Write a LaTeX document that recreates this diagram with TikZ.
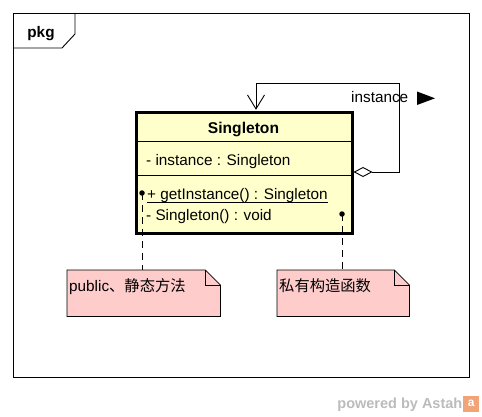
\documentclass[tikz,border=0pt]{standalone}
\usepackage{fontspec}
\setmainfont{Liberation Sans}
\newfontfamily\cjk{Noto Sans CJK SC}
\usetikzlibrary{arrows.meta}
\definecolor{classfill}{HTML}{FFFFCC}
\definecolor{notefill}{HTML}{FFCCCC}
\definecolor{wmgray}{HTML}{BBBBBB}
\definecolor{wmorange}{HTML}{F0A477}
\tikzset{
  txt/.style={inner sep=0pt, anchor=base west},
  notebox/.style={inner sep=0pt, minimum height=46pt, anchor=north west},
  notedraw/.style={draw, fill=notefill, line width=0.8pt},
  dotnode/.style={circle, fill=black, inner sep=0pt, minimum size=5.5pt},
  conn/.style={line width=0.8pt, dash pattern=on 7pt off 5pt},
}
\begin{document}
\begin{tikzpicture}[x=1pt,y=-1pt,font=\fontsize{15.3}{18}\selectfont]
\useasboundingbox (0,0) rectangle (482,417);
% frame
\node[draw, line width=0.9pt, minimum width=456pt, minimum height=364pt, anchor=north west, inner sep=0pt] (frame) at (13,13) {};
\draw[line width=0.9pt] (13,48) -- (62,48) -- (75,34) -- (75,13);
\node[anchor=base, inner sep=0pt, font=\bfseries\fontsize{15.3}{18}\selectfont] (pkg) at (41,38) {pkg};
% class
\node[draw, line width=3pt, fill=classfill, minimum width=215.5pt, minimum height=120.7pt, anchor=north west, inner sep=0pt] (cls) at (135,111.3) {};
\draw[line width=0.9pt] (135,141.7) -- (350.5,141.7);
\draw[line width=0.9pt] (135,175.3) -- (350.5,175.3);
\node[anchor=base, inner sep=0pt, font=\bfseries\fontsize{15.6}{18}\selectfont] (name) at (243.5,134) {Singleton};
\node[txt] (attr) at (146,166) {- instance : Singleton};
\node[txt] (op1) at (147,199) {+ getInstance() : Singleton};
\draw[line width=0.9pt] ([yshift=-3pt]op1.base west) -- ([yshift=-3pt]op1.base east);
\node[txt] (op2) at (146,220) {- Singleton() : void};
% self association
\draw[line width=0.9pt, {Diamond[open,length=19pt,width=10pt]}-{Straight Barb[length=14pt,width=17pt]}]
  (cls.east |- 0,172) -- (399,172) -- (399,83) -- (256,83) -- (256,109.8);
\node[txt] (role) at (351,103) {instance};
\fill (417,91.5) -- (435,98.3) -- (417,105) -- cycle;
% notes
\node[notebox, minimum width=153pt] (n1) at (67,270) {};
\node[notebox, minimum width=132pt] (n2) at (277,270) {};
\foreach \n in {n1,n2}{
  \draw[notedraw] (\n.north west) -- ([xshift=-15pt]\n.north east) -- ([yshift=-15pt]\n.north east) -- (\n.south east) -- (\n.south west) -- cycle;
  \draw[line width=0.8pt] ([xshift=-15pt]\n.north east) -- ([xshift=-15pt,yshift=-15pt]\n.north east) -- ([yshift=-15pt]\n.north east);
}
\node[txt] (t1) at (69,291) {public{\cjk 、静态方法}};
\node[txt] (t2) at (279,291) {\cjk 私有构造函数};
% connectors
\node[dotnode] (d1) at (142,193) {};
\node[dotnode] (d2) at (342,214) {};
\draw[conn] (d1.center) -- (n1.north -| d1.center);
\draw[conn] (d2.center) -- (n2.north -| d2.center);
% watermark
\node[anchor=base east, inner sep=0pt, text=wmgray, font=\bfseries\fontsize{14.5}{16}\selectfont] (wm) at (462.5,408) {powered by Astah};
\node[fill=wmorange, minimum width=16pt, minimum height=16pt, inner sep=0pt, anchor=west, text=white, font=\bfseries\fontsize{12}{12}\selectfont] (logo) at (463,403.5) {a};
\end{tikzpicture}
\end{document}
